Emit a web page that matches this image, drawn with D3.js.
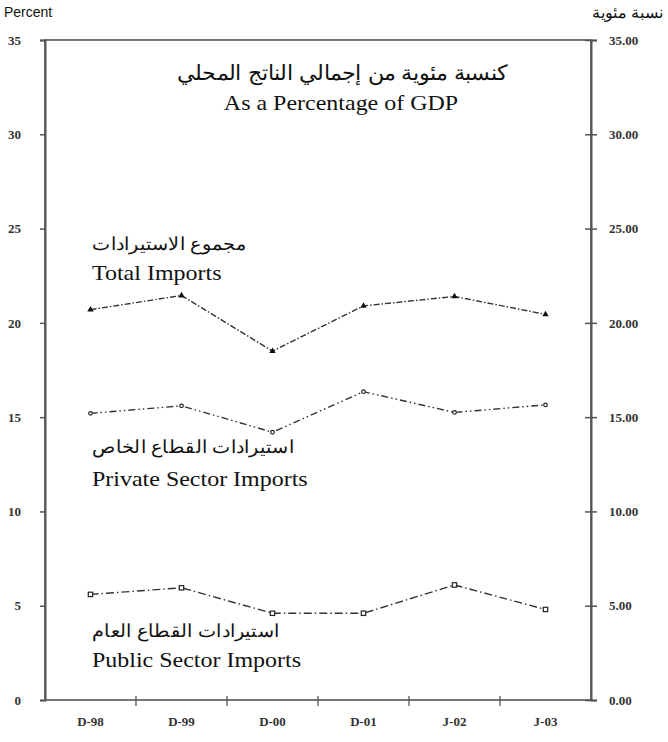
<!DOCTYPE html>
<html>
<head>
<meta charset="utf-8">
<script src="https://cdn.jsdelivr.net/npm/d3@7/dist/d3.min.js"></script>
<style>
  html, body { margin: 0; padding: 0; background: #fff; }
  svg { display: block; }
</style>
</head>
<body>
<svg id="chart" width="668" height="742"></svg>
<script>
// ---- data ----
const categories = ["D-98", "D-99", "D-00", "D-01", "J-02", "J-03"];
const totalImports   = [20.7, 21.45, 18.5, 20.9, 21.4, 20.45];
const privateImports = [15.2, 15.6, 14.2, 16.35, 15.25, 15.65];
const publicImports  = [5.6, 5.95, 4.6, 4.6, 6.1, 4.8];
const yTicks = [0, 5, 10, 15, 20, 25, 30, 35];

const seriesLabels = [
  { ar: "مجموع الاستيرادات", en: "Total Imports" },
  { ar: "استيرادات القطاع الخاص", en: "Private Sector Imports" },
  { ar: "استيرادات القطاع العام", en: "Public Sector Imports" }
];
const titleAr = "كنسبة مئوية من إجمالي الناتج المحلي";
const titleEn = "As a Percentage of GDP";
const unitLeft = "Percent";
const unitRight = "نسبة مئوية";

// ---- layout ----
const L = 45, R = 591, T = 40, B = 700;
const svg = d3.select("#chart");
const x = d3.scaleBand().domain(categories).range([L, R]).padding(0);
const y = d3.scaleLinear().domain([0, 35]).range([B, T]);
const cx = c => x(c) + x.bandwidth() / 2;

const axisColor = "#555";
const serif = "'Liberation Serif', 'Times New Roman', serif";
const sans = "'Liberation Sans', Arial, sans-serif";

// frame
svg.append("rect").attr("x", L).attr("y", T).attr("width", R - L).attr("height", B - T)
  .attr("fill", "none").attr("stroke", axisColor).attr("stroke-width", 1.6);

// left axis
const gL = svg.append("g").attr("transform", `translate(${L},0)`)
  .call(d3.axisLeft(y).tickValues(yTicks).tickSize(5).tickPadding(19).tickFormat(d3.format("d")));
gL.select(".domain").attr("stroke", axisColor).attr("stroke-width", 2);
gL.selectAll(".tick line").attr("stroke", axisColor).attr("stroke-width", 1.5);
gL.selectAll(".tick text").attr("font-family", serif).attr("font-size", 13).attr("font-weight", "bold")
  .attr("fill", "#333");

// right axis
const gR = svg.append("g").attr("transform", `translate(${R},0)`)
  .call(d3.axisRight(y).tickValues(yTicks).tickSize(6).tickPadding(12).tickFormat(d3.format(".2f")));
gR.select(".domain").attr("stroke", axisColor).attr("stroke-width", 2);
gR.selectAll(".tick line").attr("x1", -6).attr("stroke", axisColor).attr("stroke-width", 1.5);
gR.selectAll(".tick text").attr("font-family", serif).attr("font-size", 13).attr("font-weight", "bold")
  .attr("fill", "#333");

// bottom axis
const gB = svg.append("g").attr("transform", `translate(0,${B})`)
  .call(d3.axisBottom(x).tickSize(0).tickPadding(17));
gB.select(".domain").remove();
gB.selectAll(".tick text").attr("font-family", serif).attr("font-size", 13).attr("font-weight", "bold")
  .attr("fill", "#333");
svg.append("g").selectAll("line").data(categories.slice(1)).join("line")
  .attr("x1", d => x(d)).attr("x2", d => x(d))
  .attr("y1", B - 4).attr("y2", B + 6)
  .attr("stroke", axisColor).attr("stroke-width", 1.3);

// unit labels
svg.append("text").attr("x", 4).attr("y", 17).attr("font-family", sans).attr("font-size", 14)
  .attr("fill", "#111").text(unitLeft);
svg.append("text").attr("x", 663).attr("y", 18).attr("text-anchor", "end").attr("font-family", sans)
  .attr("font-size", 16).attr("fill", "#111").text(unitRight);

// title
svg.append("text").attr("transform", "translate(342,80) scale(1.06,1)").attr("text-anchor", "middle")
  .attr("font-family", sans).attr("font-size", 20.5).attr("fill", "#111").text(titleAr);
svg.append("text").attr("transform", "translate(341,110) scale(1.09,1)").attr("text-anchor", "middle")
  .attr("font-family", serif).attr("font-size", 22).attr("fill", "#111").text(titleEn);

// series
const series = [
  { vals: totalImports, dash: "6,2,1.5,2", marker: "triangle" },
  { vals: privateImports, dash: "7,3,1.5,3,1.5,3", marker: "circle" },
  { vals: publicImports, dash: "8,3,1.5,3", marker: "square" }
];
const line = d3.line().x((d, i) => cx(categories[i])).y(d => y(d));
series.forEach(s => {
  svg.append("path").datum(s.vals).attr("d", line).attr("fill", "none")
    .attr("stroke", "#333").attr("stroke-width", 1.4).attr("stroke-dasharray", s.dash);
  const g = svg.append("g");
  s.vals.forEach((v, i) => {
    const px = cx(categories[i]), py = y(v);
    if (s.marker === "triangle") {
      g.append("path").attr("d", d3.symbol(d3.symbolTriangle, 18)()).attr("transform", `translate(${px},${py})`)
        .attr("fill", "#111");
    } else if (s.marker === "circle") {
      g.append("circle").attr("cx", px).attr("cy", py).attr("r", 1.8).attr("fill", "#fff")
        .attr("stroke", "#222").attr("stroke-width", 1.2);
    } else {
      g.append("rect").attr("x", px - 2.2).attr("y", py - 2.2).attr("width", 4.4).attr("height", 4.4)
        .attr("fill", "#fff").attr("stroke", "#222").attr("stroke-width", 1.2);
    }
  });
});

// series labels
const labelPos = [ {ar: 250, en: 280}, {ar: 453, en: 486}, {ar: 637, en: 667} ];
seriesLabels.forEach((lab, i) => {
  svg.append("text").attr("transform", `translate(92,${labelPos[i].ar}) scale(1.07,1)`).attr("direction", "ltr")
    .attr("text-anchor", "start").attr("font-family", sans).attr("font-size", 18).attr("fill", "#111")
    .text(lab.ar);
  svg.append("text").attr("transform", `translate(92,${labelPos[i].en}) scale(1.09,1)`).attr("font-family", serif)
    .attr("font-size", 22).attr("fill", "#111").text(lab.en);
});
</script>
</body>
</html>
